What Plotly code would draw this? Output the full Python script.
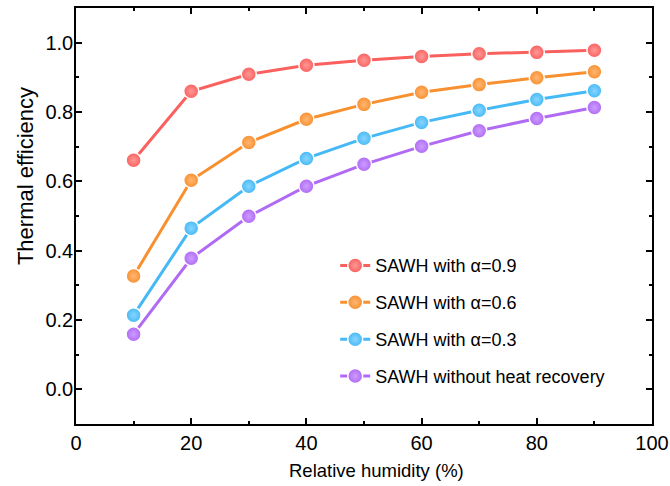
import plotly.graph_objects as go

humidity = [10, 20, 30, 40, 50, 60, 70, 80, 90]
eff_a09 = [0.661, 0.860, 0.909, 0.935, 0.949, 0.960, 0.968, 0.972, 0.978]
eff_a06 = [0.327, 0.603, 0.712, 0.779, 0.822, 0.857, 0.879, 0.899, 0.916]
eff_a03 = [0.214, 0.465, 0.586, 0.666, 0.724, 0.770, 0.805, 0.836, 0.861]
eff_none = [0.159, 0.378, 0.499, 0.586, 0.649, 0.701, 0.746, 0.781, 0.813]

names = ["SAWH with \u03b1=0.9", "SAWH with \u03b1=0.6", "SAWH with \u03b1=0.3",
         "SAWH without heat recovery"]
series = [eff_a09, eff_a06, eff_a03, eff_none]
colors = ["#F9605E", "#F8902F", "#45B9F5", "#B06AF4"]
highlights = ["#FF9896", "#FFB674", "#88D5FF", "#CC9CFF"]

fig = go.Figure()
for i, (nm, ys, c, h) in enumerate(zip(names, series, colors, highlights)):
    fig.add_trace(go.Scatter(
        x=humidity, y=ys, name=nm, mode="lines+markers",
        legendgroup=f"g{i}",
        line=dict(color=c, width=3),
        marker=dict(size=15, color=c, symbol="circle",
                    line=dict(color="white", width=1.5),
                    gradient=dict(type="radial", color=h)),
    ))

font_family = "Liberation Sans, Arial, sans-serif"
fig.update_layout(
    width=670, height=486,
    margin=dict(l=76, r=18, t=8, b=62, autoexpand=False),
    paper_bgcolor="white", plot_bgcolor="white",
    font=dict(family=font_family, size=18, color="black"),
    showlegend=True,
    legend=dict(x=0.450, y=0.425, xanchor="left", yanchor="top",
                bgcolor="rgba(0,0,0,0)", font=dict(size=18),
                tracegroupgap=10.5, itemwidth=30),
    annotations=[
        dict(text="Thermal efficiency", textangle=-90,
             xref="paper", yref="paper", x=-0.0885, y=0.596,
             xanchor="center", yanchor="middle", showarrow=False,
             font=dict(size=22, family=font_family, color="black")),
        dict(text="Relative humidity (%)",
             xref="paper", yref="paper", x=0.521, y=-0.111,
             xanchor="center", yanchor="middle", showarrow=False,
             font=dict(size=18.5, family=font_family, color="black")),
    ],
)
fig.update_xaxes(
    range=[0, 100], tickvals=[0, 20, 40, 60, 80, 100],
    showgrid=False, zeroline=False, automargin=False,
    showline=True, linecolor="black", linewidth=1.5, mirror="ticks",
    ticks="inside", ticklen=6, tickwidth=1.5, tickcolor="black",
    minor=dict(ticks="inside", ticklen=3, tickwidth=1.5, dtick=10, tickcolor="black", showgrid=False),
    tickfont=dict(size=20),
)
fig.update_yaxes(
    range=[-0.1, 1.1], tickvals=[0.0, 0.2, 0.4, 0.6, 0.8, 1.0], tickformat=".1f",
    showgrid=False, zeroline=False, automargin=False,
    showline=True, linecolor="black", linewidth=1.5, mirror="ticks",
    ticks="inside", ticklen=6, tickwidth=1.5, tickcolor="black",
    minor=dict(ticks="inside", ticklen=3, tickwidth=1.5, dtick=0.1, tickcolor="black", showgrid=False),
    tickfont=dict(size=20), ticklabelstandoff=-3,
)

fig.write_html(
    "out.html",
    config={"displayModeBar": False},
    post_script="document.body.style.margin='0';document.body.style.overflow='hidden';",
)
